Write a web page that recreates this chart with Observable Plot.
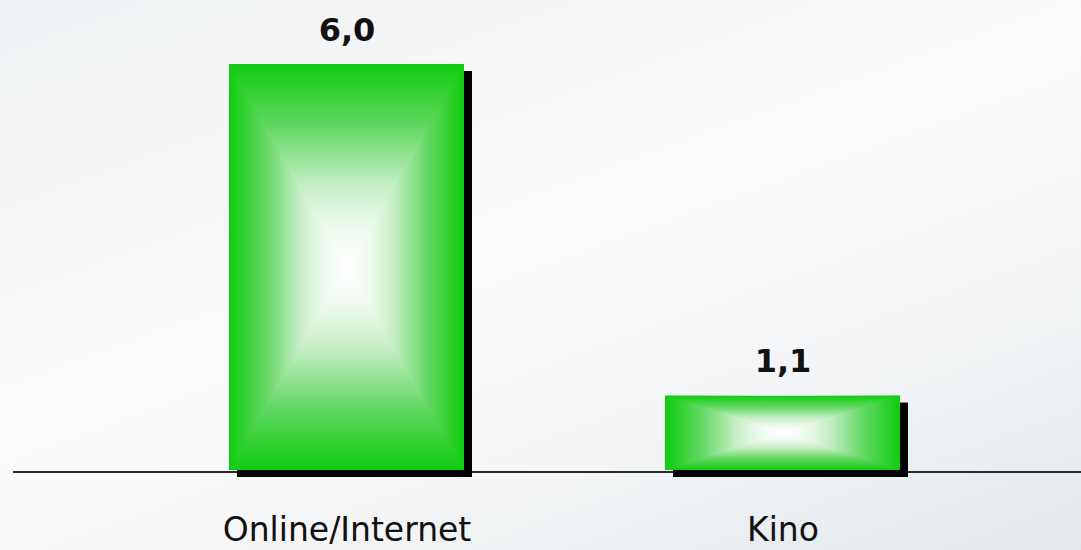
<!DOCTYPE html>
<html>
<head>
<meta charset="utf-8">
<script src="https://cdn.jsdelivr.net/npm/d3@7"></script>
<script src="https://cdn.jsdelivr.net/npm/@observablehq/plot@0.6"></script>
<style>
  html, body { margin: 0; padding: 0; }
  body { width: 1081px; height: 550px; overflow: hidden;
         background: linear-gradient(160deg, #eef1f3 0%, #fbfbfb 45%, #f6f7f8 65%, #e2e8eb 100%); }
</style>
</head>
<body>
<div id="chart"></div>
<script>
const categories = ["Online/Internet", "Kino"];
const values = [6.0, 1.1];
const valueLabels = ["6,0", "1,1"];

const data = categories.map((c, i) => ({category: c, value: values[i], label: valueLabels[i]}));

const plot = Plot.plot({
  width: 1081,
  height: 550,
  marginTop: 64,
  marginBottom: 80,
  marginLeft: 13,
  marginRight: 0,
  style: {background: "transparent", fontFamily: "'DejaVu Sans', Verdana, sans-serif", color: "#111"},
  x: {domain: categories, range: [228, 900], paddingInner: 0.462, paddingOuter: 0, label: null},
  y: {domain: [0, 6], range: [470, 64], axis: null},
  marks: [
    Plot.ruleY([0], {stroke: "#2a2a2a", strokeWidth: 2, dy: 1.5}),
    // drop shadow
    Plot.barY(data, {x: "category", y: "value", fill: "#000", dx: 8, dy: 7}),
    // base bar: horizontal gradient
    Plot.barY(data, {x: "category", y: "value", fill: "url(#gH)", className: "bar-base"}),
    // top and bottom triangles with vertical gradients
    Plot.barY(data, {x: "category", y: "value", fill: "url(#gT)", className: "tri-top"}),
    Plot.barY(data, {x: "category", y: "value", fill: "url(#gB)", className: "tri-bot"}),
    Plot.text(data, {x: "category", y: "value", text: "label", dy: -34, fontSize: 32, fontWeight: "bold",
                     fontFamily: "'DejaVu Sans', Verdana, sans-serif", fill: "#111"}),
    Plot.axisX({tickSize: 0, tickPadding: 47, fontSize: 33, fill: "#111", label: null})
  ]
});

document.getElementById("chart").appendChild(plot);

// gradient & clip definitions
const svg = d3.select(plot);
const defs = svg.insert("defs", ":first-child");
const green = "#10cc10";
const stops = [[0, green], [0.3, "#5fd75f"], [0.6, "#c6eec6"], [0.82, "#f1faf1"], [1, "#ffffff"]];
function grad(id, x1, y1, x2, y2, sym) {
  const g = defs.append("linearGradient").attr("id", id)
    .attr("x1", x1).attr("y1", y1).attr("x2", x2).attr("y2", y2);
  if (sym) {
    stops.forEach(([o, c]) => g.append("stop").attr("offset", o / 2).attr("stop-color", c));
    stops.slice().reverse().forEach(([o, c]) => g.append("stop").attr("offset", 1 - o / 2).attr("stop-color", c));
  } else {
    stops.forEach(([o, c]) => g.append("stop").attr("offset", o).attr("stop-color", c));
  }
}
grad("gH", 0, 0, 1, 0, true);
grad("gT", 0, 0, 0, 0.5, false);
grad("gB", 0, 1, 0, 0.5, false);
function clip(id, pts) {
  defs.append("clipPath").attr("id", id).attr("clipPathUnits", "objectBoundingBox")
    .append("polygon").attr("points", pts);
}
clip("cT", "0,0 1,0 0.5,0.5");
clip("cB", "0,1 1,1 0.5,0.5");
svg.selectAll(".tri-top rect").attr("clip-path", "url(#cT)");
svg.selectAll(".tri-bot rect").attr("clip-path", "url(#cB)");
</script>
</body>
</html>
